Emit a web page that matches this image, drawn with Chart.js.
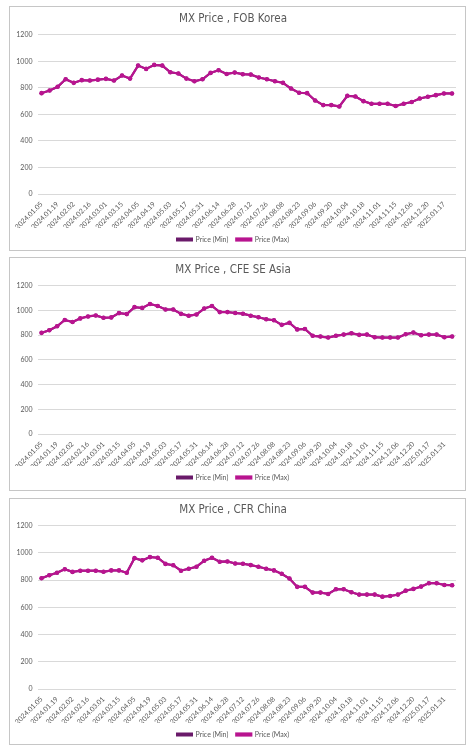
<!DOCTYPE html>
<html>
<head>
<meta charset="utf-8">
<script src="https://cdn.jsdelivr.net/npm/chart.js@4.4.1/dist/chart.umd.min.js"></script>
<style>
  html, body { margin: 0; padding: 0; background: #ffffff; }
  body { width: 475px; height: 750px; position: relative; overflow: hidden; }
  .frame { position: absolute; border: 1px solid #c6c6c6; box-sizing: border-box; pointer-events: none; z-index: 2; }
  canvas { position: absolute; z-index: 1; }
</style>
</head>
<body>
<div class="frame" style="left:9px;top:6px;width:457px;height:245px;"></div>
<div class="frame" style="left:9px;top:257px;width:457px;height:234px;"></div>
<div class="frame" style="left:9px;top:498px;width:457px;height:247px;"></div>
<canvas id="c1" style="left:10px;top:7px;"></canvas>
<canvas id="c2" style="left:10px;top:258px;"></canvas>
<canvas id="c3" style="left:10px;top:499px;"></canvas>
<script>
// ---------- DATA ----------
const categories = [
  '2024.01.05','2024.01.12','2024.01.19','2024.01.26','2024.02.02','2024.02.09','2024.02.16','2024.02.23',
  '2024.03.01','2024.03.08','2024.03.15','2024.03.22','2024.04.05','2024.04.12','2024.04.19','2024.04.26',
  '2024.05.03','2024.05.10','2024.05.17','2024.05.24','2024.05.31','2024.06.07','2024.06.14','2024.06.21',
  '2024.06.28','2024.07.05','2024.07.12','2024.07.19','2024.07.26','2024.08.02','2024.08.08','2024.08.16',
  '2024.08.23','2024.08.30','2024.09.06','2024.09.13','2024.09.20','2024.09.27','2024.10.04','2024.10.11',
  '2024.10.18','2024.10.25','2024.11.01','2024.11.08','2024.11.15','2024.11.29','2024.12.06','2024.12.13',
  '2024.12.20','2025.01.10','2025.01.17','2025.01.24','2025.01.31','2025.02.07'
];
const categoriesFobKorea = categories.slice(0, 52);
const categoriesSeAsia = categories.slice(0, 54);
const categoriesChina = categories.slice(0, 54);

const fobKoreaMin = [760,780,808,865,838,858,855,862,868,855,893,870,968,943,973,968,918,908,870,850,865,913,933,905,915,903,
  900,878,865,850,838,795,763,760,705,670,670,660,740,735,700,680,680,680,663,680,693,720,733,745,758,758];
const fobKoreaMax = [760,780,808,865,838,858,855,862,868,855,893,870,968,943,973,968,918,908,870,850,865,913,933,905,915,903,
  900,878,865,850,838,795,763,760,705,670,670,660,740,735,700,680,680,680,663,680,693,720,733,745,758,758];

const seAsiaMin = [819,840,872,923,907,936,952,960,941,944,979,971,1027,1021,1053,1037,1008,1008,973,957,968,1016,1037,987,987,980,974,
  958,945,929,921,884,900,847,850,795,789,781,795,805,816,803,805,784,781,781,781,808,821,800,805,805,784,789];
const seAsiaMax = [819,840,872,923,907,936,952,960,941,944,979,971,1027,1021,1053,1037,1008,1008,973,957,968,1016,1037,987,987,980,974,
  958,945,929,921,884,900,847,850,795,789,781,795,805,816,803,805,784,781,781,781,808,821,800,805,805,784,789];

const chinaMin = [814,836,855,881,861,870,870,870,862,872,872,855,962,946,970,965,920,910,870,884,899,943,965,936,938,923,921,
  911,899,884,872,847,812,751,751,709,709,699,733,733,711,694,694,694,679,684,694,723,736,753,778,778,765,763];
const chinaMax = [814,836,855,881,861,870,870,870,862,872,872,855,962,946,970,965,920,910,870,884,899,943,965,936,938,923,921,
  911,899,884,872,847,812,751,751,709,709,699,733,733,711,694,694,694,679,684,694,723,736,753,778,778,765,763];

const yTicks = [0, 200, 400, 600, 800, 1000, 1200];
const seriesNames = ['Price (Min)', 'Price (Max)'];
const titles = ['MX Price , FOB Korea', 'MX Price , CFE SE Asia', 'MX Price , CFR China'];

// ---------- CHARTS ----------
const FONT = "Lato, 'Open Sans', 'Liberation Sans', sans-serif";
const TITLE_FONT = "'Liberation Sans Narrow', 'DejaVu Sans Condensed', Lato, sans-serif";
const TXT = '#595959';
const MIN_COLOR = '#6a1a6a';
const MAX_COLOR = '#b8148f';

function makeChart(id, w, h, title, labels, minData, maxData, L) {
  const cv = document.getElementById(id);
  cv.width = w; cv.height = h;
  cv.style.width = w + 'px'; cv.style.height = h + 'px';
  return new Chart(cv, {
    type: 'line',
    data: {
      labels: labels,
      datasets: [
        { label: seriesNames[0], data: minData, order: 1, borderColor: MIN_COLOR, backgroundColor: MIN_COLOR,
          borderWidth: 2, pointRadius: 2, pointBackgroundColor: MIN_COLOR, pointBorderWidth: 0, tension: 0 },
        { label: seriesNames[1], data: maxData, order: 0, borderColor: MAX_COLOR, backgroundColor: MAX_COLOR,
          borderWidth: 2.2, pointRadius: 2.3, pointBackgroundColor: MAX_COLOR, pointBorderColor: MAX_COLOR, pointBorderWidth: 0, tension: 0 }
      ]
    },
    options: {
      responsive: false,
      animation: false,
      events: [],
      layout: { padding: { left: 0, right: L.padRight, top: 0, bottom: 0 } },
      plugins: {
        title: { display: true, text: title, color: TXT,
          font: { family: TITLE_FONT, size: 11.5, weight: 'normal' },
          padding: { top: L.titleTop, bottom: L.titleBottom } },
        legend: { display: true, position: 'bottom',
          labels: { color: TXT, font: { family: FONT, size: 7 }, boxWidth: 15, boxHeight: 2, padding: 8,
            sort: (a, b) => a.datasetIndex - b.datasetIndex } },
        tooltip: { enabled: false }
      },
      scales: {
        x: {
          type: 'category', offset: true,
          grid: { display: false, drawTicks: false },
          border: { display: false },
          ticks: {
            autoSkip: false, maxRotation: 45, minRotation: 45, padding: 6,
            color: TXT, font: { family: FONT, size: 7 },
            callback: function (v, i) { return i % 2 === 0 ? this.getLabelForValue(v) : null; }
          },
          afterFit: function (s) { s.height = L.xHeight; }
        },
        y: {
          min: 0, max: 1200,
          afterBuildTicks: function (s) { s.ticks = yTicks.map(v => ({ value: v })); },
          grid: { color: '#d9d9d9', lineWidth: 1, drawTicks: false },
          border: { display: false },
          ticks: { color: TXT, font: { family: FONT, size: 7 }, padding: 5,
            callback: function (v) { return String(v); } },
          afterFit: function (s) { s.width = L.yWidth; }
        }
      }
    }
  });
}

makeChart('c1', 455, 246, titles[0], categoriesFobKorea, fobKoreaMin, fobKoreaMax,
  { padRight: 9, titleTop: 5.5, titleBottom: 8.5, xHeight: 34, yWidth: 25 });
makeChart('c2', 455, 233, titles[1], categoriesSeAsia, seAsiaMin, seAsiaMax,
  { padRight: 9, titleTop: 5.5, titleBottom: 8.5, xHeight: 32, yWidth: 26 });
makeChart('c3', 455, 249, titles[2], categoriesChina, chinaMin, chinaMax,
  { padRight: 9, titleTop: 4.5, titleBottom: 8.5, xHeight: 34, yWidth: 25 });
</script>
</body>
</html>
